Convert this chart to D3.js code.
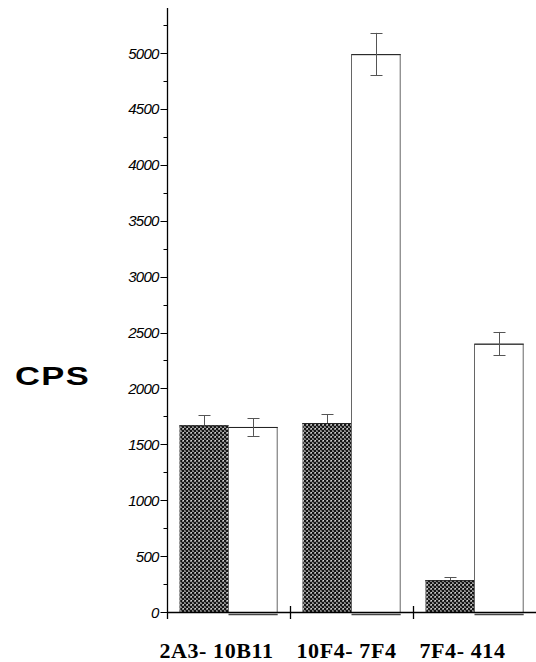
<!DOCTYPE html>
<html><head><meta charset="utf-8">
<script src="https://cdn.jsdelivr.net/npm/d3@7"></script>
<style>body{margin:0;background:#fff}</style>
</head><body>
<script>
const categories = ["2A3-10B11", "10F4-7F4", "7F4-414"];
const series = ["dark", "white"];
const darkValues = [1670, 1690, 285];
const darkErrors = [90, 80, 28];
const whiteValues = [1655, 4990, 2400];
const whiteErrors = [80, 190, 105];
const yTicks = [0, 500, 1000, 1500, 2000, 2500, 3000, 3500, 4000, 4500, 5000];
const labelOffsets = [-12, -5, -12];

const W = 536, H = 662;
const svg = d3.select("body").append("svg").attr("width", W).attr("height", H);

const defs = svg.append("defs");
const pat = defs.append("pattern").attr("id", "chk").attr("patternUnits", "userSpaceOnUse")
  .attr("width", 4).attr("height", 4);
pat.append("rect").attr("width", 4).attr("height", 4).attr("fill", "#8c8c8c");
pat.append("rect").attr("x", 0).attr("y", 0).attr("width", 2).attr("height", 2).attr("fill", "#141414");
pat.append("rect").attr("x", 2).attr("y", 2).attr("width", 2).attr("height", 2).attr("fill", "#141414");
pat.append("rect").attr("x", 3).attr("y", 0).attr("width", 1).attr("height", 1).attr("fill", "#d0d0d0");
pat.append("rect").attr("x", 1).attr("y", 2).attr("width", 1).attr("height", 1).attr("fill", "#5a5a5a");

const x0 = 167, yBase = 612;
const y = d3.scaleLinear().domain([0, 5000]).range([yBase, 53]);
const x = d3.scaleBand().domain(categories).range([x0, x0 + 369]).paddingInner(0).paddingOuter(0);
const xs = d3.scaleBand().domain(series).range([0, x.bandwidth()]).paddingOuter(0.25).paddingInner(0);

const data = categories.map((c, i) => ({c, i, dark: darkValues[i], de: darkErrors[i], white: whiteValues[i], we: whiteErrors[i]}));

const g = svg.append("g");
data.forEach(d => {
  const bx = x(d.c);
  const dx = bx + xs("dark"), wx = bx + xs("white"), bw = xs.bandwidth();
  g.append("rect").attr("x", dx).attr("y", y(d.dark)).attr("width", bw).attr("height", yBase - y(d.dark))
    .attr("fill", "url(#chk)").attr("stroke", "none");
  g.append("line").attr("x1", dx + 0.5).attr("x2", dx + 0.5).attr("y1", y(d.dark)).attr("y2", yBase)
    .attr("stroke", "#aaa").attr("stroke-width", 1);
  g.append("line").attr("x1", dx).attr("x2", dx + bw).attr("y1", y(d.dark) + 0.5).attr("y2", y(d.dark) + 0.5)
    .attr("stroke", "#222").attr("stroke-width", 1);
  g.append("rect").attr("x", wx).attr("y", y(d.white) + 0.5).attr("width", bw - 0.5).attr("height", yBase - y(d.white))
    .attr("fill", "#fff").attr("stroke", "#666").attr("stroke-width", 1);
  g.append("line").attr("x1", wx).attr("x2", wx + bw).attr("y1", y(d.white) + 0.5).attr("y2", y(d.white) + 0.5)
    .attr("stroke", "#222").attr("stroke-width", 1);
  g.append("line").attr("x1", wx).attr("x2", wx + bw).attr("y1", yBase + 2.5).attr("y2", yBase + 2.5)
    .attr("stroke", "#444").attr("stroke-width", 1.5);
  [[dx, d.dark, d.de, true], [wx, d.white, d.we, false]].forEach(([bxx, v, e, dark]) => {
    const cx = Math.round(bxx + bw / 2) + 0.5;
    const eg = g.append("g").attr("stroke", "#555").attr("stroke-width", 1);
    eg.append("line").attr("x1", cx).attr("x2", cx).attr("y1", y(v + e)).attr("y2", dark ? y(v) : y(v - e));
    eg.append("line").attr("x1", cx - 6).attr("x2", cx + 6).attr("y1", Math.round(y(v + e)) + 0.5).attr("y2", Math.round(y(v + e)) + 0.5);
    if (!dark) eg.append("line").attr("x1", cx - 6).attr("x2", cx + 6).attr("y1", Math.round(y(v - e)) + 0.5).attr("y2", Math.round(y(v - e)) + 0.5);
  });
});

// y axis
const yAxis = svg.append("g").attr("transform", `translate(${x0 + 0.5},0)`);
yAxis.append("line").attr("x1", 0).attr("x2", 0).attr("y1", 8).attr("y2", 619).attr("stroke", "#000").attr("stroke-width", 1.3);
const minor = d3.range(250, 5500, 500);
yAxis.selectAll(".minor").data(minor).join("line")
  .attr("x1", -4).attr("x2", 0).attr("y1", d => Math.round(y(d)) + 0.5).attr("y2", d => Math.round(y(d)) + 0.5)
  .attr("stroke", "#000");
yAxis.selectAll(".major").data(yTicks).join("line")
  .attr("x1", -7).attr("x2", 0).attr("y1", d => Math.round(y(d)) + 0.5).attr("y2", d => Math.round(y(d)) + 0.5)
  .attr("stroke", "#000");
yAxis.selectAll("text").data(yTicks).join("text")
  .attr("x", -9).attr("y", d => y(d) + 5.5)
  .attr("text-anchor", "end")
  .attr("font-family", "Liberation Sans, Arial, sans-serif")
  .attr("font-style", "italic").attr("font-size", 15).attr("letter-spacing", -0.8)
  .text(d => d);

// x axis
svg.append("line").attr("x1", x0).attr("x2", W).attr("y1", yBase + 0.5).attr("y2", yBase + 0.5)
  .attr("stroke", "#000").attr("stroke-width", 1.3);
svg.selectAll(".xt").data(categories.slice(1)).join("line")
  .attr("x1", d => x(d) + 0.5).attr("x2", d => x(d) + 0.5).attr("y1", 606).attr("y2", 619)
  .attr("stroke", "#000").attr("stroke-width", 1.3);
svg.selectAll(".xl").data(categories).join("text")
  .attr("x", (d, i) => x(d) + x.bandwidth() / 2 + labelOffsets[i]).attr("y", 658)
  .attr("text-anchor", "middle")
  .attr("font-family", "Liberation Serif, Times New Roman, serif")
  .attr("font-weight", "bold").attr("font-size", 22).attr("letter-spacing", 0.6)
  .text(d => d.replace("-", "- "));

// y label
svg.append("text").attr("transform", "translate(15,385) scale(1.38,1)")
  .attr("font-family", "Liberation Sans, Arial, sans-serif").attr("font-weight", "bold")
  .attr("font-size", 25).attr("letter-spacing", 1).text("CPS");
</script>
</body></html>
